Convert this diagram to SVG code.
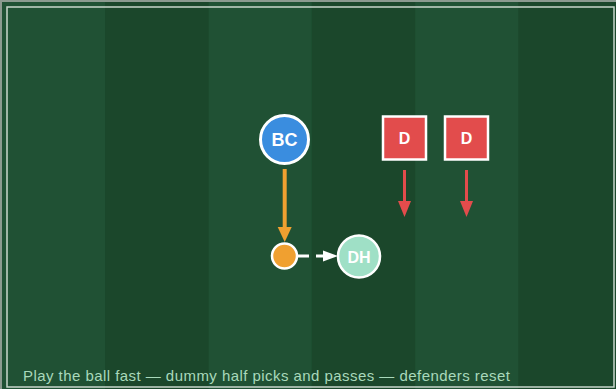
<svg xmlns="http://www.w3.org/2000/svg" width="616" height="389" viewBox="0 0 616 389">
  <style>
    .lbl { font-family: "Liberation Sans", Arial, sans-serif; font-weight: bold; fill: #ffffff; text-anchor: middle; }
    .def { fill: #e24c4c; stroke: #ffffff; stroke-width: 2.5; }
    .cap { font-family: "Liberation Sans", Arial, sans-serif; font-size: 15px; letter-spacing: 0.45px; fill: #a9d9bb; }
  </style>

  <!-- pitch -->
  <rect x="0" y="0" width="616" height="389" fill="#1c482c"/>
  <g id="stripes">
    <rect x="2" y="2" width="103.3" height="387" fill="#205134"/>
    <rect x="105.3" y="2" width="103.3" height="387" fill="#1b472b"/>
    <rect x="208.6" y="2" width="103.3" height="387" fill="#205134"/>
    <rect x="311.9" y="2" width="103.3" height="387" fill="#1b472b"/>
    <rect x="415.2" y="2" width="103.3" height="387" fill="#205134"/>
    <rect x="518.5" y="2" width="103.3" height="387" fill="#1b472b"/>
  </g>
  <path d="M1,389 V1 H616" fill="none" stroke="#8c9a90" stroke-width="2"/>
  <rect x="7" y="7" width="607" height="380" fill="none" stroke="#c9d6cc" stroke-width="1.5"/>

  <!-- connectors -->
  <g id="connectors">
    <line x1="284.7" y1="169" x2="284.7" y2="229" stroke="#f0a030" stroke-width="4"/>
    <path d="M277.7,227 L291.7,227 L284.7,242 Z" fill="#f0a030"/>
    <line x1="298" y1="256" x2="326" y2="256" stroke="#ffffff" stroke-width="3" stroke-dasharray="11 7"/>
    <path d="M323,250.5 L338,256 L323,261.5 Z" fill="#ffffff"/>
    <line x1="404.5" y1="170" x2="404.5" y2="203" stroke="#e24c4c" stroke-width="3"/>
    <path d="M398,201 L411,201 L404.5,217 Z" fill="#e24c4c"/>
    <line x1="466.5" y1="170" x2="466.5" y2="203" stroke="#e24c4c" stroke-width="3"/>
    <path d="M460,201 L473,201 L466.5,217 Z" fill="#e24c4c"/>
  </g>

  <!-- players -->
  <g id="BC">
    <circle cx="284.5" cy="139.5" r="24" fill="#3a8ddf" stroke="#ffffff" stroke-width="3"/>
    <text class="lbl" x="284.5" y="146" font-size="18">BC</text>
  </g>
  <g id="D1">
    <rect class="def" x="383" y="116.5" width="43" height="43"/>
    <text class="lbl" x="404.5" y="144" font-size="16">D</text>
  </g>
  <g id="D2">
    <rect class="def" x="445" y="116.5" width="43" height="43"/>
    <text class="lbl" x="466.5" y="144" font-size="16">D</text>
  </g>
  <g id="ball">
    <circle cx="284.5" cy="256" r="12.5" fill="#f0a030" stroke="#ffffff" stroke-width="2.5"/>
  </g>
  <g id="DH">
    <circle cx="359" cy="256.5" r="21" fill="#9fe0c6" stroke="#ffffff" stroke-width="2.5"/>
    <text class="lbl" x="359" y="262.5" font-size="16">DH</text>
  </g>

  <text class="cap" x="23" y="381">Play the ball fast — dummy half picks and passes — defenders reset</text>
</svg>
